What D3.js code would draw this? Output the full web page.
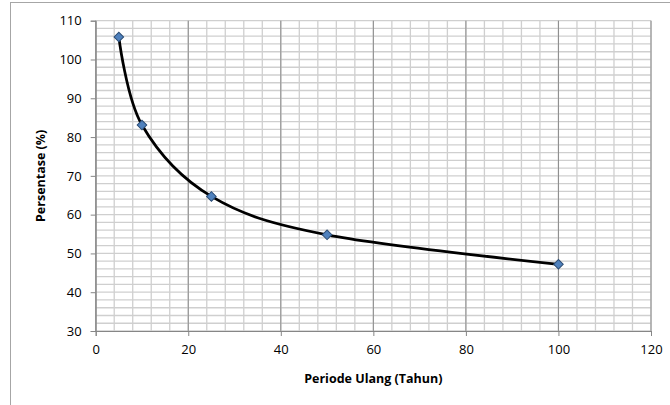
<!DOCTYPE html>
<html>
<head>
<meta charset="utf-8">
<script src="https://cdn.jsdelivr.net/npm/d3@7"></script>
<style>
  html, body { margin: 0; padding: 0; background: #fff; }
  svg { display: block; }
  text { font-family: "Open Sans", "Liberation Sans", sans-serif; fill: #000; }
</style>
</head>
<body>
<svg id="chart" width="670" height="405"></svg>
<script>
// Data
const periods = [5, 10, 25, 50, 100];
const percentages = [105.8, 83.1, 64.7, 54.8, 47.2];
const xTicks = [0, 20, 40, 60, 80, 100, 120];
const yTicks = [30, 40, 50, 60, 70, 80, 90, 100, 110];
const xTitle = "Periode Ulang (Tahun)";
const yTitle = "Persentase (%)";

(function () {
const svg = d3.select("#chart");
const pL = 95.7, pR = 651, pT = 20.7, pB = 331;

// outer chart border (extends past the right/bottom edges like the reference)
svg.append("rect")
  .attr("x", 10.5).attr("y", 2.5)
  .attr("width", 700).attr("height", 450)
  .attr("fill", "#fff").attr("stroke", "#a6a6a6").attr("stroke-width", 1);

const x = d3.scaleLinear().domain([0, 120]).range([pL, pR]);
const y = d3.scaleLinear().domain([30, 110]).range([pB, pT]);

const grid = svg.append("g");
// minor gridlines
const xMinor = d3.range(0, 120.001, 4);
const yMinor = d3.range(30, 110.001, 2);
grid.selectAll(".vmin").data(xMinor).enter().append("line")
  .attr("x1", d => x(d)).attr("x2", d => x(d))
  .attr("y1", pT).attr("y2", pB)
  .attr("stroke", "#cfcfcf").attr("stroke-width", 1.3);
grid.selectAll(".hmin").data(yMinor).enter().append("line")
  .attr("x1", pL).attr("x2", pR)
  .attr("y1", d => y(d)).attr("y2", d => y(d))
  .attr("stroke", "#cfcfcf").attr("stroke-width", 1.3);
// major vertical gridlines
grid.selectAll(".vmaj").data(xTicks).enter().append("line")
  .attr("x1", d => x(d)).attr("x2", d => x(d))
  .attr("y1", pT).attr("y2", pB)
  .attr("stroke", "#8c8c8c").attr("stroke-width", 1);

// axes
const xAxis = d3.axisBottom(x).tickValues(xTicks).tickSize(5).tickPadding(9);
const yAxis = d3.axisLeft(y).tickValues(yTicks).tickSize(5).tickPadding(9);

const gx = svg.append("g").attr("transform", `translate(0,${pB})`).call(xAxis);
const gy = svg.append("g").attr("transform", `translate(${pL},0)`).call(yAxis);
[gx, gy].forEach(g => {
  g.select(".domain").attr("stroke", "#868686").attr("stroke-width", 1);
  g.selectAll(".tick line").attr("stroke", "#868686");
  g.selectAll(".tick text").attr("font-size", 13).attr("fill", "#000")
    .style("font-family", "'Open Sans', sans-serif");
});

// axis titles
svg.append("text")
  .attr("x", (pL + pR) / 2).attr("y", 383)
  .attr("text-anchor", "middle")
  .attr("font-size", 12.5).attr("font-weight", "bold")
  .text(xTitle);
svg.append("text")
  .attr("transform", `translate(45,${(pT + pB) / 2}) rotate(-90)`)
  .attr("text-anchor", "middle")
  .attr("font-size", 12.5).attr("font-weight", "bold")
  .text(yTitle);

// smoothed line
const pts = periods.map((p, i) => [p, percentages[i]]);
const line = d3.line()
  .x(d => x(d[0])).y(d => y(d[1]))
  .curve(d3.curveCatmullRom.alpha(0));
svg.append("path")
  .datum(pts)
  .attr("d", line)
  .attr("fill", "none")
  .attr("stroke", "#000")
  .attr("stroke-width", 2.75);

// diamond markers
svg.selectAll(".marker").data(pts).enter().append("path")
  .attr("transform", d => `translate(${x(d[0])},${y(d[1])}) rotate(45)`)
  .attr("d", d3.symbol().type(d3.symbolSquare).size(46))
  .attr("fill", "#4f81bd")
  .attr("stroke", "#2c4d75")
  .attr("stroke-width", 1);
})();
</script>
</body>
</html>
